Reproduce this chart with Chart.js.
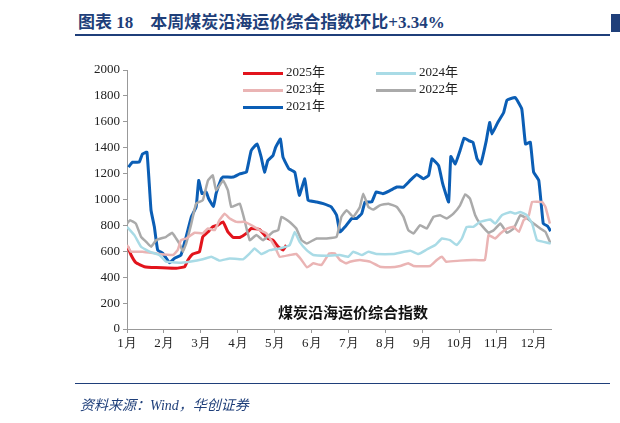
<!DOCTYPE html>
<html><head><meta charset="utf-8">
<script src="https://cdn.jsdelivr.net/npm/chart.js@4"></script>
<style>
body{margin:0;width:620px;height:423px;background:#fff;position:relative;overflow:hidden;font-family:"Liberation Serif","Noto Sans CJK SC",serif}
#title{position:absolute;left:78px;top:8px;font-size:17px;font-weight:bold;color:#1f3f7a;white-space:pre}
#tline{position:absolute;left:75px;top:34px;width:535px;height:2px;background:#1f3f7a}
#sq{position:absolute;left:611px;top:14px;width:9px;height:18px;background:#1f3f7a}
#fline{position:absolute;left:75px;top:383px;width:535px;height:1px;background:#1f3f7a}
#src{position:absolute;left:80px;top:394px;font-size:14px;font-style:italic;color:#1f3f7a}
#wrap{position:absolute;left:0;top:0;width:620px;height:423px}
.lg{position:absolute;font-size:13px;color:#222}
.lg i{display:inline-block;width:40px;height:3px;vertical-align:middle;margin-right:3px}
#note{position:absolute;left:278px;top:301px;font-size:15px;font-weight:bold;color:#111;font-family:"Noto Sans CJK SC"}
</style></head><body>
<div id="title">图表 18    本周煤炭沿海运价综合指数环比+3.34%</div>
<div id="tline"></div><div id="sq"></div>
<div id="wrap"><canvas id="c"></canvas></div>
<div class="lg" style="left:243px;top:61px"><i style="background:#e2141c"></i>2025年</div>
<div class="lg" style="left:376px;top:61px"><i style="background:#a9dbe6"></i>2024年</div>
<div class="lg" style="left:243px;top:78px"><i style="background:#eab4b4"></i>2023年</div>
<div class="lg" style="left:376px;top:78px"><i style="background:#aaaaaa"></i>2022年</div>
<div class="lg" style="left:243px;top:95px"><i style="background:#0b5eb5"></i>2021年</div>
<div id="note">煤炭沿海运价综合指数</div>
<div id="fline"></div>
<div id="src">资料来源：Wind，华创证券</div>
<script>
// x = month position (1 = start of Jan)
const x2021 = [1.04,1.15,1.33,1.42,1.54,1.65,1.74,1.83,1.97,2.15,2.28,2.46,2.6,2.74,2.87,2.94,3.03,3.14,3.21,3.34,3.41,3.55,3.6,3.87,4.05,4.23,4.36,4.52,4.63,4.72,4.81,4.95,5.02,5.15,5.22,5.38,5.54,5.66,5.81,5.9,6.13,6.31,6.53,6.67,6.76,6.9,7.08,7.21,7.35,7.44,7.62,7.74,7.92,8.12,8.3,8.48,8.66,8.84,9.02,9.16,9.25,9.43,9.54,9.7,9.76,9.88,10.01,10.12,10.24,10.36,10.47,10.57,10.72,10.81,10.87,11.03,11.19,11.28,11.5,11.68,11.78,11.91,12.0,12.14,12.26,12.38,12.46];
const y2021 = [1250,1288,1288,1352,1365,917,789,609,584,512,545,571,712,866,942,1147,1045,1058,1006,947,1045,1160,1173,1173,1198,1211,1378,1429,1327,1211,1301,1340,1403,1467,1327,1237,1211,1032,1160,994,981,968,942,878,750,789,853,853,891,981,981,1058,1045,1070,1096,1096,1147,1193,1160,1186,1314,1262,1122,981,1332,1275,1378,1475,1455,1442,1314,1275,1455,1595,1506,1595,1672,1767,1787,1698,1429,1442,1211,1147,814,794,755];
const x2025 = [1.02,1.11,1.24,1.47,1.79,2.33,2.56,2.65,2.78,2.96,3.05,3.19,3.32,3.46,3.6,3.73,3.87,4.05,4.23,4.36,4.59,4.72,4.81,4.95,5.09,5.22,5.31];
const y2025 = [635,571,512,481,474,469,481,533,579,597,712,750,789,802,827,750,707,707,738,776,768,725,699,686,635,609,648];
const x2024 = [1.0,1.2,1.38,1.61,1.88,2.06,2.42,2.69,3.05,3.28,3.5,3.78,4.14,4.32,4.45,4.63,4.86,5.13,5.4,5.54,5.67,5.86,6.04,6.4,6.76,6.99,7.12,7.35,7.53,7.75,8.2,8.66,8.88,9.11,9.34,9.52,9.74,9.92,10.06,10.19,10.37,10.55,10.83,10.96,11.14,11.37,11.5,11.64,11.82,11.96,12.09,12.27,12.46];
const y2024 = [789,725,635,597,571,520,512,520,538,558,528,545,538,584,622,579,609,622,648,750,673,609,571,566,571,558,597,571,597,579,579,604,579,614,648,699,686,648,699,789,789,827,845,814,878,904,891,904,878,814,686,673,660];
const x2023 = [1.0,1.11,1.42,1.88,2.24,2.37,2.46,2.6,2.83,3.05,3.19,3.37,3.5,3.64,3.78,3.96,4.18,4.36,4.59,4.77,5.0,5.13,5.4,5.58,5.72,5.87,6.04,6.26,6.47,6.62,6.76,6.92,7.03,7.3,7.57,7.84,8.12,8.39,8.61,8.75,9.2,9.38,9.52,9.63,10.01,10.37,10.68,10.78,10.96,11.1,11.28,11.46,11.6,11.73,11.87,11.96,12.23,12.32,12.44];
const y2023 = [648,597,597,579,571,609,686,699,743,738,776,763,840,891,853,827,827,802,763,738,635,558,571,579,533,476,507,494,584,584,533,507,520,533,520,481,476,487,507,487,487,533,558,520,528,533,533,725,699,738,776,789,750,840,878,981,981,942,814];
const x2022 = [1.0,1.08,1.24,1.38,1.52,1.65,1.79,2.06,2.22,2.33,2.44,2.51,2.6,2.74,2.87,3.05,3.19,3.32,3.41,3.6,3.73,3.82,4.05,4.18,4.32,4.5,4.68,4.95,5.09,5.18,5.4,5.58,5.72,5.86,6.13,6.4,6.67,6.8,6.94,7.12,7.3,7.39,7.53,7.66,7.84,8.07,8.3,8.48,8.61,8.75,8.93,9.11,9.29,9.47,9.65,9.83,10.01,10.15,10.28,10.42,10.55,10.78,10.92,11.1,11.28,11.46,11.64,11.82,12.0,12.18,12.32,12.46];
const y2022 = [814,840,814,712,673,635,686,712,743,699,648,597,660,814,968,994,1147,1186,1070,1147,1070,942,968,840,686,725,686,750,763,866,827,776,686,660,699,699,712,866,917,866,942,1045,942,922,955,968,942,866,763,738,802,776,866,878,853,891,955,1040,1006,878,814,743,763,814,743,776,878,853,814,776,750,660];
const months = ["1月","2月","3月","4月","5月","6月","7月","8月","9月","10月","11月","12月"];

const pts = (xs, ys) => xs.map((v, i) => ({ x: v, y: ys[i] }));
const ds = (xs, ys, color, w) => ({ data: pts(xs, ys), borderColor: color, borderWidth: w, pointRadius: 0, tension: 0.1, fill: false });

new Chart(document.getElementById("c"), {
  type: "line",
  data: {
    datasets: [
      ds(x2024, y2024, "#a9dbe6", 2.5),
      ds(x2023, y2023, "#eab4b4", 2.5),
      ds(x2022, y2022, "#aaaaaa", 2.5),
      ds(x2021, y2021, "#0b5eb5", 3),
      ds(x2025, y2025, "#e2141c", 3),
    ],
  },
  options: {
    responsive: true,
    maintainAspectRatio: false,
    animation: false,
    layout: { padding: { left: 60, right: 69, top: 70, bottom: 72 } },
    plugins: { legend: { display: false }, tooltip: { enabled: false } },
    scales: {
      x: {
        type: "linear", min: 1, max: 12.47,
        afterBuildTicks: (a) => { a.ticks = months.map((m, i) => ({ value: i + 1 })); },
        afterFit: (a) => { a.height = 22; },
        ticks: { callback: (v) => months[v - 1], color: "#222", font: { family: "Liberation Serif", size: 13 }, maxRotation: 0, autoSkip: false },
        grid: { drawOnChartArea: false, tickLength: 4, color: "#999" },
        border: { color: "#999" },
      },
      y: {
        min: 0, max: 2000,
        afterFit: (a) => { a.width = 67; },
        ticks: { stepSize: 200, callback: (v) => String(v), color: "#222", font: { family: "Liberation Serif", size: 13 } },
        grid: { drawOnChartArea: false, tickLength: 4, color: "#999" },
        border: { color: "#999" },
      },
    },
  },
});
</script>
</body></html>
